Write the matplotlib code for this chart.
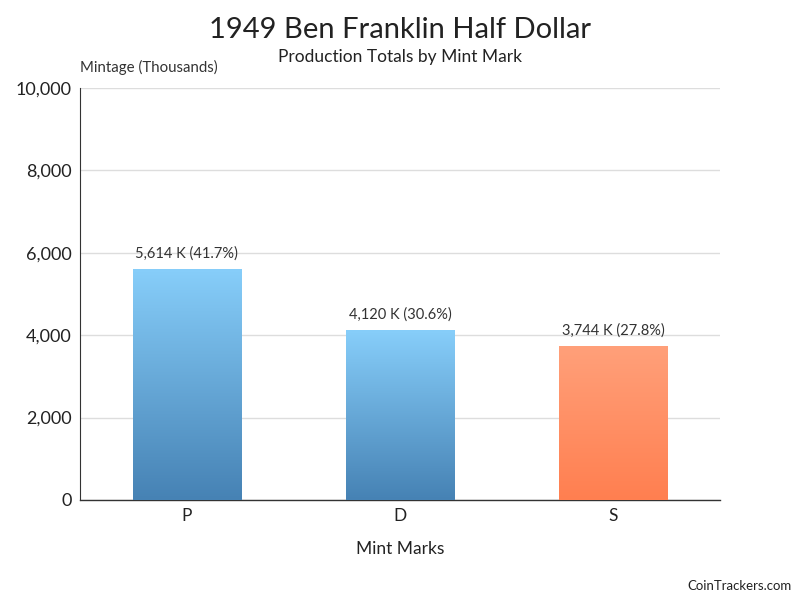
import matplotlib
matplotlib.use("Agg")
import matplotlib.pyplot as plt
import numpy as np
from matplotlib.colors import LinearSegmentedColormap

categories = ["P", "D", "S"]
values = [5614, 4120, 3744]
labels = ["5,614 K (41.7%)", "4,120 K (30.6%)", "3,744 K (27.8%)"]
yticks = [0, 2000, 4000, 6000, 8000, 10000]
ytick_labels = ["0", "2,000", "4,000", "6,000", "8,000", "10,000"]

grad_colors = [("#4682B4", "#87CEFA"), ("#4682B4", "#87CEFA"), ("#FF7F50", "#FFA07A")]

plt.rcParams['font.family'] = ['Lato', 'DejaVu Sans']

fig = plt.figure(figsize=(8, 6), dpi=100)
ax = fig.add_axes([0.1, 1 - 500/600, 0.8, 412/600])

x = np.arange(len(categories))
bars = ax.bar(x, values, width=0.507, color="none", edgecolor="none", zorder=3)

grad = np.linspace(0, 1, 256).reshape(-1, 1)
for b, (c0, c1) in zip(bars, grad_colors):
    cmap = LinearSegmentedColormap.from_list("g", [c0, c1])
    x0, y0 = b.get_x(), b.get_y()
    w, h = b.get_width(), b.get_height()
    im = ax.imshow(grad, extent=[x0, x0 + w, y0, y0 + h], origin="lower",
                   cmap=cmap, aspect="auto", zorder=3)
    im.set_clip_path(b)

for xi, v, lab in zip(x, values, labels):
    ax.annotate(lab, (xi, v), xytext=(0, 6), textcoords="offset points",
                ha="center", va="bottom", fontsize=10.5, color="#333333", zorder=4)

ax.set_xlim(-0.5, 2.5)
ax.set_ylim(0, 10000)
ax.set_yticks(yticks)
ax.set_yticklabels(ytick_labels, fontsize=13, color="#222222")
ax.set_xticks(x)
ax.set_xticklabels(categories, fontsize=12.5, color="#222222")
ax.tick_params(length=0, pad=6)
ax.grid(axis="y", color="#dddddd", linewidth=1, zorder=0)
ax.set_axisbelow(True)
for s in ["top", "right"]:
    ax.spines[s].set_visible(False)
ax.spines["left"].set_color("#333333")
ax.spines["bottom"].set_color("#333333")
ax.spines["left"].set_linewidth(0.8)
ax.spines["bottom"].set_linewidth(1.0)

ax.set_xlabel("Mint Marks", fontsize=12.5, color="#222222", labelpad=12)

fig.text(0.5, 1 - 30/600, "1949 Ben Franklin Half Dollar", fontsize=21, ha="center",
         va="center", color="#222222")
fig.text(0.5, 1 - 57/600, "Production Totals by Mint Mark", fontsize=12.5, ha="center",
         va="center", color="#222222")
fig.text(80/800, 1 - 67/600, "Mintage (Thousands)", fontsize=10.8, ha="left",
         va="center", color="#333333")
fig.text(792/800, 1 - 586/600, "CoinTrackers.com", fontsize=9.5, ha="right",
         va="center", color="#222222")

fig.savefig("out.png", dpi=100)
